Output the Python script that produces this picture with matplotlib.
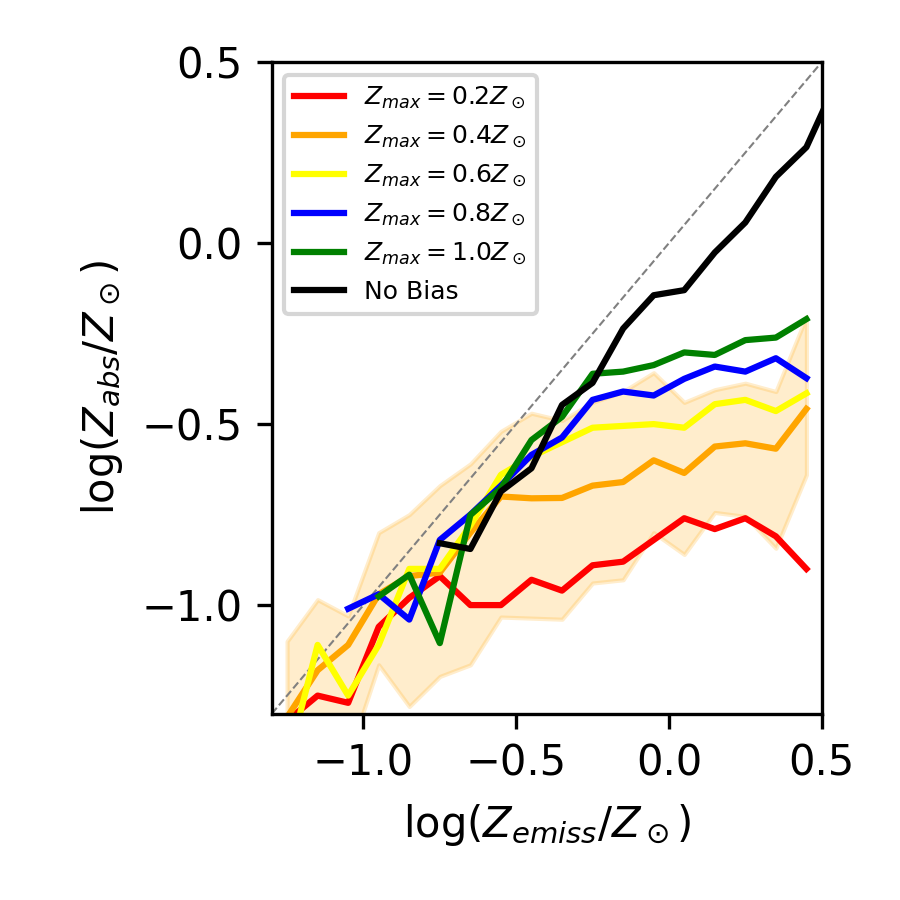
import matplotlib
matplotlib.use('Agg')
import matplotlib.pyplot as plt

# bin centres of log(Z_emiss/Z_sun)
x_bins = [-1.25, -1.15, -1.05, -0.95, -0.85, -0.75, -0.65, -0.55, -0.45,
          -0.35, -0.25, -0.15, -0.05, 0.05, 0.15, 0.25, 0.35, 0.45]

z02 = [-1.32, -1.25, -1.27, -1.06, -0.98, -0.92, -1.00, -1.00, -0.93,
       -0.96, -0.89, -0.88, -0.82, -0.76, -0.79, -0.76, -0.81, -0.90]
z04 = [-1.31, -1.18, -1.11, -0.97, -0.92, -0.91, -0.80, -0.70, -0.705,
       -0.704, -0.67, -0.66, -0.60, -0.635, -0.562, -0.553, -0.568, -0.458]
z06 = [-1.44, -1.11, -1.25, -1.11, -0.90, -0.90, -0.78, -0.64, -0.59,
       -0.55, -0.51, -0.505, -0.50, -0.51, -0.445, -0.433, -0.464, -0.415]
x_z08 = x_bins[2:]
z08 = [-1.01, -0.97, -1.04, -0.82, -0.75, -0.67, -0.585, -0.537,
       -0.433, -0.41, -0.421, -0.375, -0.341, -0.355, -0.318, -0.373]
x_z10 = x_bins[3:]
z10 = [-0.976, -0.916, -1.105, -0.751, -0.677, -0.544, -0.48, -0.361,
       -0.355, -0.337, -0.302, -0.309, -0.268, -0.261, -0.21]
x_nobias = x_bins[5:] + [0.55]
nobias = [-0.829, -0.845, -0.686, -0.622, -0.447, -0.386, -0.236, -0.144,
          -0.13, -0.026, 0.057, 0.183, 0.265, 0.45]

# spread of the 0.4 Z_sun case
band_hi = [-1.10, -0.985, -1.03, -0.80, -0.75, -0.67, -0.61, -0.52, -0.47,
           -0.49, -0.44, -0.41, -0.358, -0.44, -0.405, -0.387, -0.41, -0.203]
band_lo = [-1.50, -1.50, -1.42, -1.165, -1.28, -1.197, -1.165, -1.033, -1.036,
           -1.039, -0.939, -0.93, -0.80, -0.86, -0.744, -0.755, -0.843, -0.64]

fig = plt.figure(figsize=(3, 3), dpi=300)
ax = fig.add_subplot(111)
fig.subplots_adjust(left=0.302, right=0.913, bottom=0.207, top=0.931)

ax.plot([-1.3, 0.5], [-1.3, 0.5], color='gray', ls='--', lw=0.5)
ax.fill_between(x_bins, band_lo, band_hi, color='orange', alpha=0.2)

ax.plot(x_bins, z02, color='red', lw=1.5, label=r'$Z_{max} = 0.2Z_\odot$')
ax.plot(x_bins, z04, color='orange', lw=1.5, label=r'$Z_{max} = 0.4Z_\odot$')
ax.plot(x_bins, z06, color='yellow', lw=1.5, label=r'$Z_{max} = 0.6Z_\odot$')
ax.plot(x_z08, z08, color='blue', lw=1.5, label=r'$Z_{max} = 0.8Z_\odot$')
ax.plot(x_z10, z10, color='green', lw=1.5, label=r'$Z_{max} = 1.0Z_\odot$')
ax.plot(x_nobias, nobias, color='black', lw=1.5, label='No Bias')

ax.set_xlim(-1.3, 0.5)
ax.set_ylim(-1.3, 0.5)
ax.set_xticks([-1.0, -0.5, 0.0, 0.5])
ax.set_yticks([-1.0, -0.5, 0.0, 0.5])
ax.tick_params(labelsize=10)
ax.set_xlabel(r'$\log(Z_{emiss}/Z_\odot)$', fontsize=10)
ax.set_ylabel(r'$\log(Z_{abs}/Z_\odot)$', fontsize=10)
ax.legend(loc='upper left', fontsize=6)

plt.savefig('out.png', dpi=300)
